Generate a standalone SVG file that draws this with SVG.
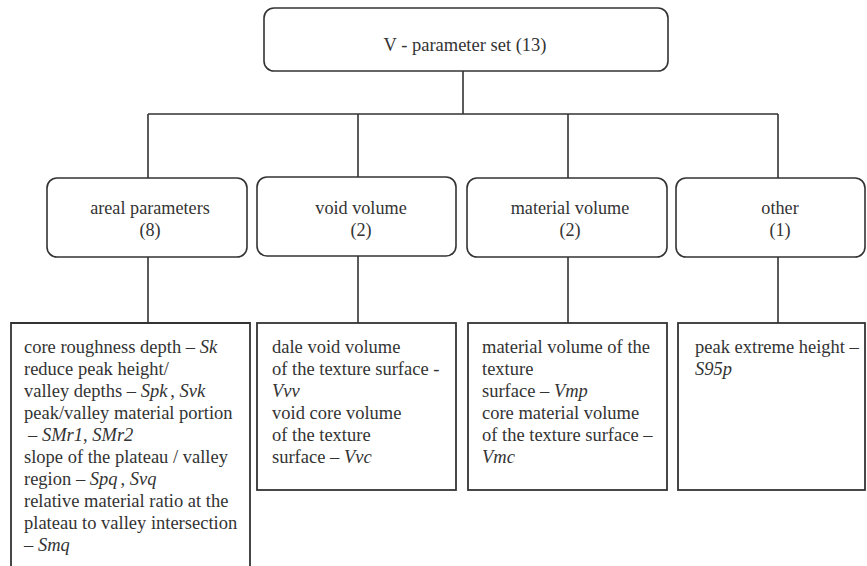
<svg xmlns="http://www.w3.org/2000/svg" width="867" height="566" viewBox="0 0 867 566" font-family="'Liberation Serif', Tinos, 'Times New Roman', serif">
<style>
.box{fill:#fff;stroke:#333;stroke-width:1.6}
.leaf{fill:#fff;stroke:#333;stroke-width:1.8}
.conn{stroke:#333;stroke-width:1.6;fill:none}
text{fill:#333;font-size:18.2px}
.l{font-size:18.5px}
.c{text-anchor:middle}
.i{font-style:italic}
</style>
<rect width="867" height="566" fill="#fff"/>
<g id="connectors">
<path class="conn" d="M463 71V114M148 114H778M148 114V178M358 114V177M568 114V178M778 114V178"/>
<path class="conn" d="M148 257V323M358 256V323M568 257V323M778 257V323"/>
</g>
<g id="root">
<rect class="box" x="264" y="8" width="404" height="63" rx="10"/>
<text class="c" x="465" y="51" style="font-size:18.5px">V - parameter set (13)</text>
</g>
<g id="areal">
<rect class="box" x="47" y="178" width="200" height="79" rx="10"/>
<text class="c" x="150" y="214">areal parameters</text>
<text class="c" x="150" y="236">(8)</text>
</g>
<g id="void">
<rect class="box" x="257" y="177" width="199" height="79" rx="10"/>
<text class="c" x="361" y="214">void volume</text>
<text class="c" x="361" y="236">(2)</text>
</g>
<g id="material">
<rect class="box" x="467" y="178" width="200" height="79" rx="10"/>
<text class="c" x="570" y="214">material volume</text>
<text class="c" x="570" y="236">(2)</text>
</g>
<g id="other">
<rect class="box" x="676" y="178" width="189" height="79" rx="10"/>
<text class="c" x="780" y="214">other</text>
<text class="c" x="780" y="236">(1)</text>
</g>
<g id="areal-leaf">
<path class="leaf" d="M11 570V323H250V570"/>
<text class="l" x="24" y="353">core roughness depth – <tspan class="i">Sk</tspan></text>
<text class="l" x="24" y="375">reduce peak height/</text>
<text class="l" x="24" y="397">valley depths – <tspan class="i">Spk</tspan><tspan dx="3">, </tspan><tspan class="i">Svk</tspan></text>
<text class="l" x="24" y="419">peak/valley material portion</text>
<text class="l" x="28" y="441">– <tspan class="i">SMr1</tspan>, <tspan class="i">SMr2</tspan></text>
<text class="l" x="24" y="463">slope of the plateau / valley</text>
<text class="l" x="24" y="485">region – <tspan class="i">Spq</tspan><tspan dx="3">, </tspan><tspan class="i">Svq</tspan></text>
<text class="l" x="24" y="507">relative material ratio at the</text>
<text class="l" x="24" y="529">plateau to valley intersection</text>
<text class="l" x="24" y="551">– <tspan class="i">Smq</tspan></text>
</g>
<g id="void-leaf">
<rect class="leaf" x="257" y="323" width="199" height="167"/>
<text class="l" x="272" y="353">dale void volume</text>
<text class="l" x="272" y="375">of the texture surface -</text>
<text class="l i" x="272" y="397">Vvv</text>
<text class="l" x="272" y="419">void core volume</text>
<text class="l" x="272" y="441">of the texture</text>
<text class="l" x="272" y="463">surface – <tspan class="i">Vvc</tspan></text>
</g>
<g id="material-leaf">
<rect class="leaf" x="468" y="323" width="199" height="167"/>
<text class="l" x="482" y="353">material volume of the</text>
<text class="l" x="482" y="375">texture</text>
<text class="l" x="482" y="397">surface – <tspan class="i">Vmp</tspan></text>
<text class="l" x="482" y="419">core material volume</text>
<text class="l" x="482" y="441">of the texture surface –</text>
<text class="l i" x="482" y="463">Vmc</text>
</g>
<g id="other-leaf">
<rect class="leaf" x="678" y="323" width="187" height="167"/>
<text class="l" x="695" y="353">peak extreme height –</text>
<text class="l i" x="695" y="375">S95p</text>
</g>
</svg>
